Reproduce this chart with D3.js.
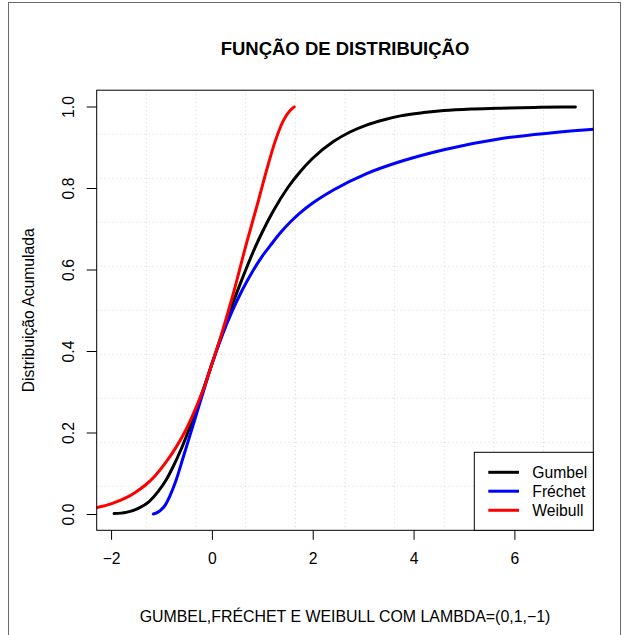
<!DOCTYPE html>
<html>
<head>
<meta charset="utf-8">
<script src="https://cdn.jsdelivr.net/npm/d3@7"></script>
<style>
  html, body { margin: 0; padding: 0; background: #fff; }
  svg { display: block; }
  text { font-family: "Liberation Sans", Arimo, Arial, Helvetica, sans-serif; fill: #000; }
</style>
</head>
<body>
<svg id="chart" width="631" height="635"></svg>
<script>
// Cumulative distribution curves (x, F(x)) for the three extreme-value families
const gumbelX = [-1.94, -1.7, -1.46, -1.25, -1.06, -0.9, -0.79, -0.6, -0.4, -0.2, 0, 0.2, 0.4, 0.6, 0.86, 1.0, 1.22, 1.5, 1.75, 2.0, 2.41, 2.75, 3.08, 3.4, 3.74, 4.2, 4.6, 5.2, 5.72, 6.5, 7.21];
const gumbelY = [0.001, 0.004, 0.014, 0.030, 0.056, 0.085, 0.111, 0.162, 0.225, 0.295, 0.368, 0.441, 0.512, 0.577, 0.655, 0.692, 0.744, 0.800, 0.840, 0.873, 0.914, 0.938, 0.955, 0.967, 0.977, 0.985, 0.990, 0.994, 0.996, 0.998, 0.999];

const frechetX = [-1.16, -1.05, -0.93, -0.83, -0.73, -0.56, -0.4, -0.2, 0, 0.2, 0.4, 0.6, 0.8, 1.0, 1.16, 1.35, 1.55, 1.75, 2.0, 2.41, 3.08, 3.74, 4.6, 5.72, 6.71, 7.57, 8.0];
const frechetY = [0.000, 0.006, 0.021, 0.045, 0.076, 0.143, 0.207, 0.288, 0.368, 0.437, 0.497, 0.549, 0.594, 0.633, 0.659, 0.689, 0.716, 0.739, 0.763, 0.795, 0.836, 0.865, 0.894, 0.921, 0.935, 0.944, 0.947];

const weibullX = [-2.28, -2.0, -1.7, -1.52, -1.3, -1.125, -0.9, -0.7, -0.53, -0.33, -0.15, 0, 0.2, 0.4, 0.69, 0.925, 1.09, 1.256, 1.42, 1.55, 1.633];
const weibullY = [0.016, 0.025, 0.040, 0.053, 0.073, 0.094, 0.129, 0.166, 0.203, 0.257, 0.312, 0.368, 0.445, 0.530, 0.666, 0.770, 0.846, 0.915, 0.966, 0.990, 0.999];

const xTicks = [-2, 0, 2, 4, 6];
const yTicks = [0.0, 0.2, 0.4, 0.6, 0.8, 1.0];
const legendLabels = ["Gumbel", "Fréchet", "Weibull"];
const seriesColors = ["#000000", "#0000ff", "#ff0000"];

const titleText = "FUNÇÃO DE DISTRIBUIÇÃO";
const xTitle = "GUMBEL,FRÉCHET E WEIBULL COM LAMBDA=(0,1,−1)";
const yTitle = "Distribuição Acumulada";

// Layout
const W = 631, H = 635;
const plot = { left: 96.7, right: 593.3, top: 90.2, bottom: 530.3 };
const FS = 15.7;

const svg = d3.select("#chart");
svg.append("rect").attr("width", W).attr("height", H).attr("fill", "#fff");

// Outer device frame
svg.append("rect")
  .attr("x", 8.5).attr("y", 2.5).attr("width", 612).attr("height", 650)
  .attr("fill", "none").attr("stroke", "#6a6a6a").attr("stroke-width", 1);

const x = d3.scaleLinear().domain([-2.285, 7.565]).range([plot.left, plot.right]);
const y = d3.scaleLinear().domain([-0.04, 1.04]).range([plot.bottom, plot.top]);

// Dotted grid: 10 equal cells each way
const grid = svg.append("g").attr("stroke", "#d3d3d3").attr("stroke-width", 1).attr("stroke-dasharray", "1,3");
const gx = d3.range(1, 10).map(i => plot.left + (plot.right - plot.left) * i / 10);
const gy = d3.range(1, 10).map(i => plot.top + (plot.bottom - plot.top) * i / 10);
grid.selectAll(".gv").data(gx).join("line")
  .attr("x1", d => d).attr("x2", d => d).attr("y1", plot.top).attr("y2", plot.bottom);
grid.selectAll(".gh").data(gy).join("line")
  .attr("y1", d => d).attr("y2", d => d).attr("x1", plot.left).attr("x2", plot.right);

// Curves, clipped to the plot region
svg.append("clipPath").attr("id", "clip").append("rect")
  .attr("x", plot.left).attr("y", plot.top)
  .attr("width", plot.right - plot.left).attr("height", plot.bottom - plot.top);

const line = d3.line().x(d => x(d[0])).y(d => y(d[1])).curve(d3.curveMonotoneX);
const series = [
  d3.zip(gumbelX, gumbelY),
  d3.zip(frechetX, frechetY),
  d3.zip(weibullX, weibullY)
];
const curves = svg.append("g").attr("clip-path", "url(#clip)");
series.forEach((s, i) => {
  curves.append("path").datum(s)
    .attr("d", line)
    .attr("fill", "none")
    .attr("stroke", seriesColors[i])
    .attr("stroke-width", 3)
    .attr("stroke-linecap", "round")
    .attr("stroke-linejoin", "round");
});

// Axes
const xAxis = svg.append("g")
  .attr("transform", `translate(0,${plot.bottom})`)
  .call(d3.axisBottom(x).tickValues(xTicks).tickSize(9.5).tickSizeOuter(0));
xAxis.select(".domain").remove();
xAxis.selectAll("line").attr("stroke", "#000");
xAxis.selectAll("text")
  .attr("y", 34).attr("dy", null)
  .style("font-size", FS + "px")
  .style("font-family", "'Liberation Sans', Arimo, Arial, sans-serif")
  .attr("fill", "#000");

const yAxis = svg.append("g")
  .attr("transform", `translate(${plot.left},0)`)
  .call(d3.axisLeft(y).tickValues(yTicks).tickFormat(d3.format(".1f")).tickSize(10).tickSizeOuter(0));
yAxis.select(".domain").remove();
yAxis.selectAll("line").attr("stroke", "#000");
yAxis.selectAll("text")
  .attr("x", null).attr("dy", null)
  .attr("text-anchor", "middle")
  .attr("transform", "translate(-22.5,0) rotate(-90)")
  .style("font-size", FS + "px")
  .style("font-family", "'Liberation Sans', Arimo, Arial, sans-serif")
  .attr("fill", "#000");

// Plot box
svg.append("rect")
  .attr("x", plot.left).attr("y", plot.top)
  .attr("width", plot.right - plot.left).attr("height", plot.bottom - plot.top)
  .attr("fill", "none").attr("stroke", "#000").attr("stroke-width", 1);

// Titles
svg.append("text")
  .attr("x", (plot.left + plot.right) / 2).attr("y", 55)
  .attr("text-anchor", "middle")
  .style("font-size", "18.5px").style("font-weight", "bold")
  .text(titleText);

svg.append("text")
  .attr("x", (plot.left + plot.right) / 2).attr("y", 622)
  .attr("text-anchor", "middle")
  .style("font-size", "15.9px")
  .text(xTitle);

svg.append("text")
  .attr("transform", `translate(34,${(plot.top + plot.bottom) / 2}) rotate(-90)`)
  .attr("text-anchor", "middle")
  .style("font-size", FS + "px")
  .text(yTitle);

// Legend
const leg = { x0: 474.3, y0: 452.3, x1: plot.right, y1: plot.bottom };
svg.append("rect")
  .attr("x", leg.x0).attr("y", leg.y0)
  .attr("width", leg.x1 - leg.x0).attr("height", leg.y1 - leg.y0)
  .attr("fill", "#fff").attr("stroke", "#000").attr("stroke-width", 1);
const rowY = [472.3, 491.2, 510.3];
const legRows = svg.append("g").selectAll("g").data(legendLabels).join("g");
legRows.append("line")
  .attr("x1", 488.3).attr("x2", 519)
  .attr("y1", (d, i) => rowY[i]).attr("y2", (d, i) => rowY[i])
  .attr("stroke", (d, i) => seriesColors[i]).attr("stroke-width", 3);
legRows.append("text")
  .attr("x", 532.3).attr("y", (d, i) => rowY[i] + 5.6)
  .style("font-size", FS + "px")
  .text(d => d);
</script>
</body>
</html>
